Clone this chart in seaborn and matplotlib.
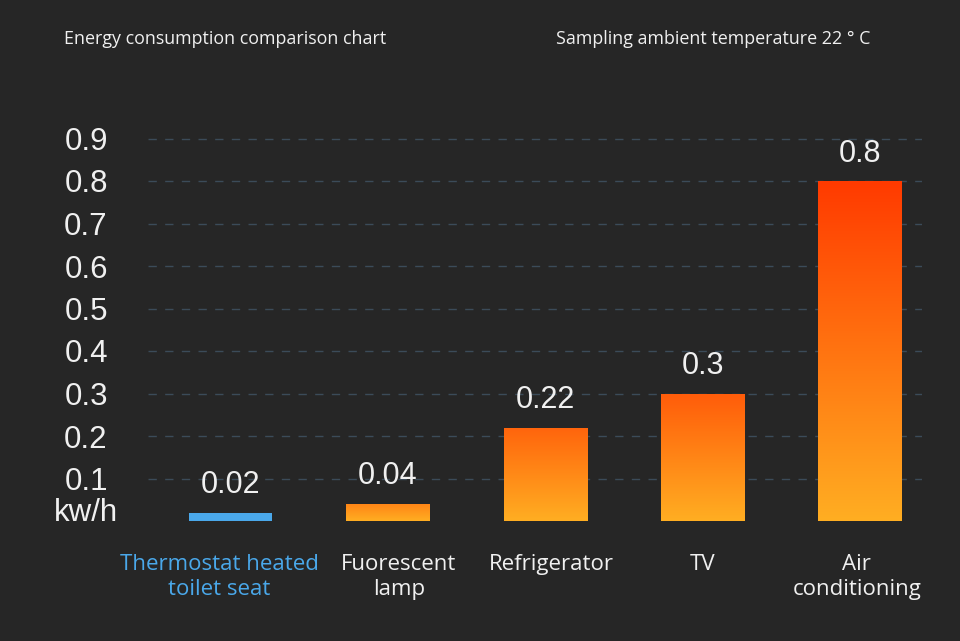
import numpy as np
import matplotlib
matplotlib.use("Agg")
import matplotlib.pyplot as plt
import matplotlib.colors as mcolors
import seaborn as sns
import pandas as pd

# ---- data ----
categories = ["Thermostat heated\ntoilet seat", "Fuorescent\nlamp", "Refrigerator", "TV", "Air\nconditioning"]
values = [0.02, 0.04, 0.22, 0.3, 0.8]
value_labels = ["0.02", "0.04", "0.22", "0.3", "0.8"]
ytick_values = [0.0, 0.1, 0.2, 0.3, 0.4, 0.5, 0.6, 0.7, 0.8, 0.9]
ytick_labels = ["kw/h", "0.1", "0.2", "0.3", "0.4", "0.5", "0.6", "0.7", "0.8", "0.9"]
title_left = "Energy consumption comparison chart"
title_right = "Sampling ambient temperature 22 ° C"

BG = "#262626"
BLUE = "#4aa8ea"
WHITE = "#f0f0f0"
YELLOW = np.array(mcolors.to_rgb("#ffae22"))
RED = np.array(mcolors.to_rgb("#ff3a00"))
NUMFONT = ["Liberation Sans", "DejaVu Sans"]
# small horizontal nudges (px) of the category labels, as in the reference layout
LABEL_NUDGE_PX = [-11, 11, 6, 0, -3]

sns.set_theme(style="dark")
plt.rcParams["font.family"] = ["Open Sans", "DejaVu Sans"]

fig = plt.figure(figsize=(9.6, 6.41), dpi=100, facecolor=BG)
ax = fig.add_axes([148 / 960, (641 - 521) / 641, (922 - 148) / 960, 425 / 641])
ax.set_facecolor(BG)

df = pd.DataFrame({"cat": categories, "val": values})
palette = [BLUE] + ["#ff8a1a"] * (len(values) - 1)
sns.barplot(data=df, x="cat", y="val", hue="cat", palette=palette, legend=False,
            width=0.528, ax=ax, saturation=1, edgecolor="none", linewidth=0)

XLIM = (-0.525, 4.395)
ax.set_xlim(*XLIM)
ax.set_ylim(0, 1.0)

# gradient fill for orange bars
for i, patch in enumerate(ax.patches):
    if i == 0:
        continue
    x0, y0 = patch.get_x(), patch.get_y()
    w, h = patch.get_width(), patch.get_height()
    t_top = min(1.0, (h / 0.8) ** 0.35)
    n = 256
    frac = np.linspace(0, 1, n)[:, None] * t_top
    rgb = YELLOW[None, :] * (1 - frac) + RED[None, :] * frac
    img = np.repeat(rgb[:, None, :], 2, axis=1)
    im = ax.imshow(img, extent=[x0, x0 + w, y0, y0 + h], origin="lower",
                   aspect="auto", zorder=patch.get_zorder() + 0.1, interpolation="bilinear")
    im.set_clip_path(patch)

ax.set_xlim(*XLIM)
ax.set_ylim(0, 1.0)

# value labels
for i, (v, lab) in enumerate(zip(values, value_labels)):
    ax.annotate(lab, (i, v), xytext=(0, 9), textcoords="offset points",
                ha="center", va="bottom", color=WHITE, fontsize=22,
                family=NUMFONT)

# y axis (first tick label placed manually a bit higher)
ax.set_yticks(ytick_values)
ax.set_yticklabels([""] + ytick_labels[1:])
ax.tick_params(axis="y", length=0, pad=44.6, colors=WHITE)
for t in ax.get_yticklabels():
    t.set_ha("center")
    t.set_fontsize(22.5)
    t.set_family(NUMFONT)
    t.set_color(WHITE)
ax.annotate(ytick_labels[0], (0, ytick_values[0]), xycoords=("axes fraction", "data"),
            xytext=(-62 * 0.72, 6), textcoords="offset points",
            ha="center", va="center", fontsize=22.5, family=NUMFONT, color=WHITE)

# x axis: labels drawn as annotations under each category
ax.set_xticks(range(len(categories)))
ax.set_xticklabels([""] * len(categories))
ax.tick_params(axis="x", length=0)
for i, lab in enumerate(categories):
    ax.annotate(lab, (i, 0), xycoords="data",
                xytext=(LABEL_NUDGE_PX[i] * 0.72, -23.5), textcoords="offset points",
                ha="center", va="top", fontsize=16, linespacing=1.27,
                color=BLUE if i == 0 else WHITE, annotation_clip=False)
ax.set_xlabel("")
ax.set_ylabel("")

# grid
ax.grid(False)
for v in ytick_values[1:]:
    ax.axhline(v, color="#3b4b59", lw=1, ls=(0, (6, 6)), zorder=0)

for s in ax.spines.values():
    s.set_visible(False)

fig.text(64 / 960, 1 - 39 / 641, title_left, color=WHITE, fontsize=12.9, va="center", ha="left")
fig.text(556 / 960, 1 - 39 / 641, title_right, color=WHITE, fontsize=12.9, va="center", ha="left")

fig.savefig("out.png", dpi=100, facecolor=BG)
